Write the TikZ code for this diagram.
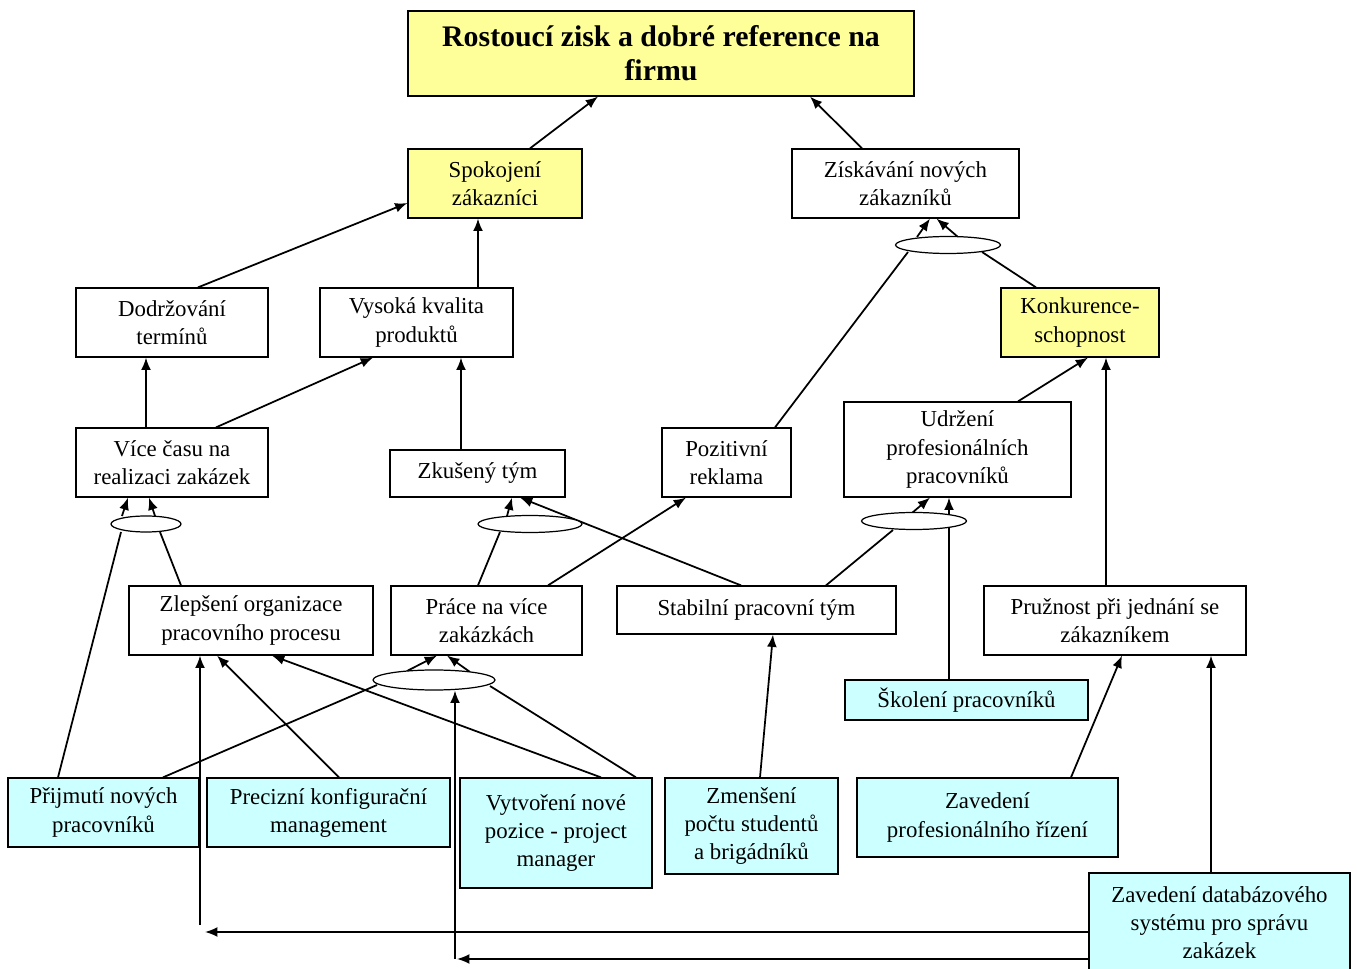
\documentclass[tikz,border=0pt]{standalone}
\usepackage{fontspec}
\setmainfont{Liberation Serif}
\definecolor{goalyellow}{HTML}{FFFF99}
\definecolor{stepcyan}{HTML}{CCFFFF}
\usetikzlibrary{arrows.meta, shapes.geometric, positioning, calc, backgrounds}

\begin{document}
\begin{tikzpicture}[x=0.02cm, y=-0.02cm, >={Latex[length=7pt,width=5.6pt]},
	Box/.style={draw, line width=0.7pt, fill=white, align=center, inner sep=0pt, font={\fontsize{13pt}{16pt}\selectfont}},
	Goal/.style={Box, fill=goalyellow},
	Measure/.style={Box, fill=stepcyan},
	Join/.style={draw, ellipse, line width=0.7pt, fill=white, inner sep=0pt},
	Link/.style={->, line width=1pt}]
\useasboundingbox (0,0) rectangle (1357,969);
% goals
\node[Goal, minimum width=10.12cm, minimum height=1.7cm, font={\bfseries\fontsize{17pt}{19.5pt}\selectfont}] (zisk) at (661,53.5) {Rostoucí zisk a dobré reference na\\firmu};
\node[Goal, minimum width=3.48cm, minimum height=1.38cm] (spok) at (495,183.5) {Spokojení\\zákazníci};
\node[Box, minimum width=4.54cm, minimum height=1.38cm] (novi) at (905.5,183.5) {Získávání nových\\zákazníků};
\node[Box, minimum width=3.84cm, minimum height=1.38cm] (term) at (172,322.5) {Dodržování\\termínů};
\node[Box, minimum width=3.86cm, minimum height=1.38cm] (kval) at (416.5,322.5) {Vysoká kvalita\\produktů};
\node[Goal, minimum width=3.16cm, minimum height=1.38cm] (konk) at (1080,322.5) {Konkurence-\\schopnost};
\node[Box, minimum width=3.84cm, minimum height=1.38cm] (cas) at (172,462.5) {Více času na\\realizaci zakázek};
\node[Box, minimum width=3.5cm, minimum height=0.94cm] (tym) at (477.5,473.5) {Zkušený tým};
\node[Box, minimum width=2.58cm, minimum height=1.38cm] (rekl) at (726.5,462.5) {Pozitivní\\reklama};
\node[Box, minimum width=4.54cm, minimum height=1.9cm] (udrz) at (957.5,449.5) {Udržení\\profesionálních\\pracovníků};
\node[Box, minimum width=4.88cm, minimum height=1.38cm] (org) at (251,620.5) {Zlepšení organizace\\pracovního procesu};
\node[Box, minimum width=3.82cm, minimum height=1.38cm] (prace) at (486.5,620.5) {Práce na více\\zakázkách};
\node[Box, minimum width=5.58cm, minimum height=0.96cm] (stab) at (756.5,610) {Stabilní pracovní tým};
\node[Box, minimum width=5.24cm, minimum height=1.38cm] (pruz) at (1115,620.5) {Pružnost při jednání se\\zákazníkem};
% measures
\node[Measure, minimum width=4.86cm, minimum height=0.8cm] (skol) at (966.5,700) {Školení pracovníků};
\node[Measure, minimum width=3.82cm, minimum height=1.38cm] (prijm) at (103.5,812.5) {Přijmutí nových\\pracovníků};
\node[Measure, minimum width=4.86cm, minimum height=1.38cm] (konf) at (328.5,812.5) {Precizní konfigurační\\management};
\node[Measure, minimum width=3.84cm, minimum height=2.2cm] (pm) at (556,833) {Vytvoření nové\\pozice - project\\manager};
\node[Measure, minimum width=3.46cm, minimum height=1.92cm] (stud) at (751.5,826) {Zmenšení\\počtu studentů\\a brigádníků};
\node[Measure, minimum width=5.22cm, minimum height=1.58cm] (rizeni) at (987.5,817.5) {Zavedení\\profesionálního řízení};
\node[Measure, minimum width=5.22cm, minimum height=1.98cm] (db) at (1219.5,922.5) {Zavedení databázového\\systému pro správu\\zakázek};
% and-joins
\node[Join, minimum width=2.1cm, minimum height=0.34cm] (j1) at (948,245) {};
\node[Join, minimum width=1.4cm, minimum height=0.32cm] (j2) at (146,524) {};
\node[Join, minimum width=2.08cm, minimum height=0.34cm] (j3) at (530,524) {};
\node[Join, minimum width=2.1cm, minimum height=0.34cm] (j4) at (914,521) {};
\node[Join, minimum width=2.44cm, minimum height=0.4cm] (j5) at (434,680) {};
\coordinate (dbA) at (205,932);
\coordinate (dbB) at (457,959);
\coordinate (upA) at (200,925);
\coordinate (upB) at (455,959);
\begin{pgfonlayer}{background}
	\draw[Link] ($(spok.north)+(35,0)$) -- ($(zisk.south)+(-63,0)$);
	\draw[Link] ($(novi.north)+(-43.5,0)$) -- ($(zisk.south)+(149,0)$);
	\draw[Link] ($(term.north)+(26,0)$) -- ($(spok.west)+(0,19.5)$);
	\draw[Link] ($(kval.north)+(61.5,0)$) -- ($(spok.south)+(-17,0)$);
	\draw[Link] ($(j1)+(-31,-8)$) -- ($(novi.south)+(24.5,0)$);
	\draw[Link] ($(j1)+(10,-8)$) -- ($(novi.south)+(31,0)$);
	\draw[line width=1pt] ($(rekl.north)+(48.5,0)$) -- ($(j1)+(-40,7)$);
	\draw[line width=1pt] ($(konk.north)+(-44,0)$) -- ($(j1)+(34,7)$);
	\draw[Link] ($(cas.north)+(-26,0)$) -- ($(term.south)+(-26,0)$);
	\draw[Link] ($(cas.north)+(44,0)$) -- ($(kval.south)+(-43.5,0)$);
	\draw[Link] ($(tym.north)+(-16.5,0)$) -- ($(kval.south)+(44.5,0)$);
	\draw[Link] ($(udrz.north)+(60.5,0)$) -- ($(konk.south)+(8,0)$);
	\draw[Link] ($(pruz.north)+(-9,0)$) -- ($(konk.south)+(26,0)$);
	\draw[Link] ($(j2)+(-24,-8)$) -- ($(cas.south)+(-44,0)$);
	\draw[Link] ($(j2)+(9,-8)$) -- ($(cas.south)+(-23,0)$);
	\draw[line width=1pt] ($(prijm.north)+(-45.5,0)$) -- ($(j2)+(-25,8)$);
	\draw[line width=1pt] ($(org.north)+(-70,0)$) -- ($(j2)+(14,8)$);
	\draw[Link] ($(j3)+(-23,-8)$) -- ($(tym.south)+(34.5,0)$);
	\draw[line width=1pt] ($(prace.north)+(-8.5,0)$) -- ($(j3)+(-30,8)$);
	\draw[Link] ($(stab.north)+(-15.5,0)$) -- ($(tym.south)+(42.5,0)$);
	\draw[Link] ($(prace.north)+(61.5,0)$) -- ($(rekl.south)+(-40.5,0)$);
	\draw[line width=1pt] ($(stab.north)+(69.5,0)$) -- ($(j4)+(-21,9)$);
	\draw[Link] ($(j4)+(-2,-8)$) -- ($(udrz.south)+(-27.5,0)$);
	\draw[Link] ($(skol.north)+(-17.5,0)$) -- ($(udrz.south)+(-8.5,0)$);
	\draw[Link] ($(stud.north)+(8.5,0)$) -- ($(stab.south)+(16.5,0)$);
	\draw[Link] ($(rizeni.north)+(83.5,0)$) -- ($(pruz.south)+(7,0)$);
	\draw[Link] ($(db.north)+(-8.5,0)$) -- ($(pruz.south)+(96,0)$);
	\draw[Link] ($(j5)+(-27,-9)$) -- ($(prace.south)+(-49.5,0)$);
	\draw[Link] ($(j5)+(36,-8)$) -- ($(prace.south)+(-39.5,0)$);
	\draw[line width=1pt] ($(prijm.north)+(59.5,0)$) -- ($(j5)+(-57,5)$);
	\draw[line width=1pt] ($(pm.north)+(80,0)$) -- ($(j5)+(56,6)$);
	\draw[Link] ($(pm.north)+(45,0)$) -- ($(org.south)+(21,0)$);
	\draw[Link] ($(konf.north)+(10.5,0)$) -- ($(org.south)+(-34,0)$);
	\draw[Link] ($(db.west)+(0,9.5)$) -- (dbA);
	\draw[Link] ($(db.west)+(0,36.5)$) -- (dbB);
	\draw[Link] (upA) -- (upA |- org.south);
	\draw[Link] (upB) -- (upB |- j5.south);
\end{pgfonlayer}
\end{tikzpicture}
\end{document}
